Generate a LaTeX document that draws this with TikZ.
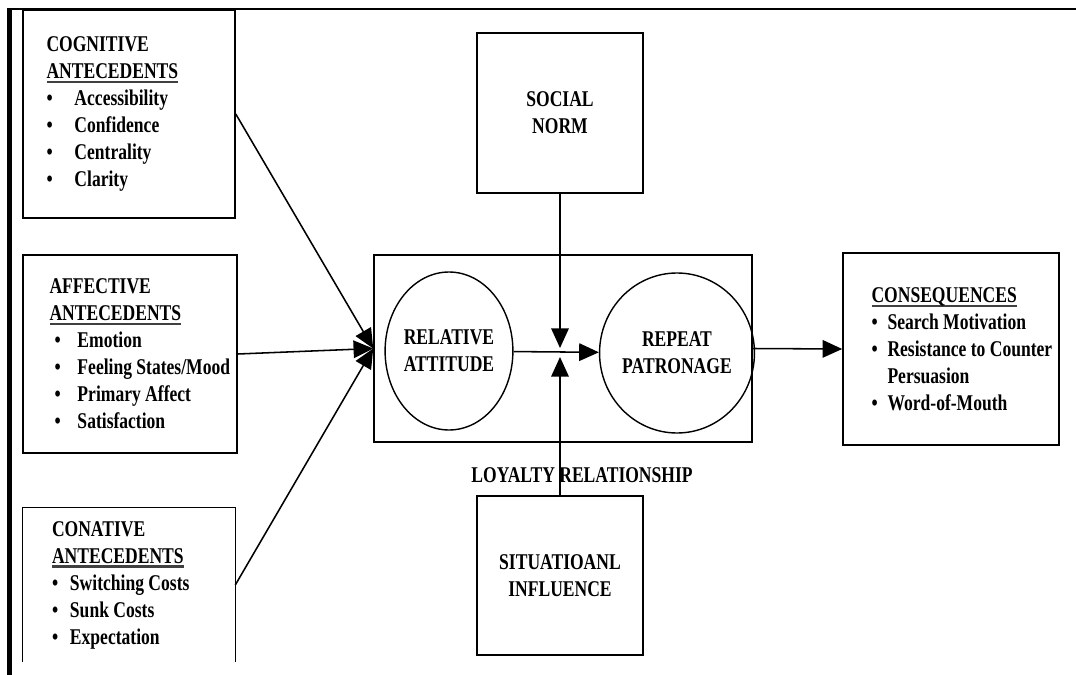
\documentclass[tikz,border=0pt]{standalone}
\usepackage{fontspec}
\setmainfont{Liberation Serif}[FakeStretch=0.78]
\usepackage{xcolor}
\usetikzlibrary{shapes,arrows.meta,positioning,calc}

\newdimen\pxu \pxu=0.025cm
\newcommand{\bul}[2]{\makebox[#1][l]{\textbullet}#2}
\newcommand{\undl}[1]{\setbox0\hbox{#1}\rlap{\color{black!75}\rule[-3.2pt]{\wd0}{1.6pt}}\box0}

\begin{document}
\begin{tikzpicture}[x=0.025cm, y=-0.025cm, >={Triangle[length=14pt,width=12.5pt]},
    font=\fontsize{16}{19.2}\selectfont\bfseries]
    \tikzstyle{box} = [draw, rectangle, line width=1.1pt, inner sep=0pt]
    \tikzstyle{txt} = [align=left, inner sep=0pt]
    \tikzstyle{oval} = [draw, ellipse, line width=1pt, inner sep=0pt, align=center]
    \tikzstyle{link} = [->, line width=1.1pt]

    \useasboundingbox (0,0) rectangle (1076,675);
    \draw [line width=2pt] (9,9) -- (1076,9);
    \draw [line width=3pt] (9.5,675) -- (9.5,8);

    % antecedents
    \node [box, minimum width=212\pxu, minimum height=208\pxu] (cog) at (129,114) {};
    \node [txt, right=24\pxu of cog.west] (cogtxt) {COGNITIVE\\ \undl{ANTECEDENTS}\\
        \bul{28\pxu}{Accessibility}\\ \bul{28\pxu}{Confidence}\\
        \bul{28\pxu}{Centrality}\\ \bul{28\pxu}{Clarity}};

    \node [box, minimum width=214\pxu, minimum height=198\pxu] (aff) at (130,354) {};
    \node [txt, right=27\pxu of aff.west] (afftxt) {AFFECTIVE\\ \undl{ANTECEDENTS}\\
        \hspace*{5\pxu}\bul{23\pxu}{Emotion}\\ \hspace*{5\pxu}\bul{23\pxu}{Feeling States/Mood}\\
        \hspace*{5\pxu}\bul{23\pxu}{Primary Affect}\\ \hspace*{5\pxu}\bul{23\pxu}{Satisfaction}};

    \node [minimum width=212\pxu, minimum height=154\pxu, inner sep=0pt] (con) at (129,585) {};
    \draw [line width=1.1pt] (con.south west) -- (con.north west) -- (con.north east) -- (con.south east);
    \node [txt, right=29\pxu of con.west] (context) {CONATIVE\\ \undl{ANTECEDENTS}\\
        \bul{18\pxu}{Switching Costs}\\ \bul{18\pxu}{Sunk Costs}\\ \bul{18\pxu}{Expectation}};

    % loyalty relationship
    \node [box, minimum width=378\pxu, minimum height=187\pxu] (rel) at (563,348.5) {};
    \node [oval, minimum width=118\pxu, minimum height=158\pxu] (att) at (449,351) {RELATIVE\\ATTITUDE};
    \node [oval, minimum width=119\pxu, minimum height=160\pxu] (pat) at (677,353) {REPEAT\\PATRONAGE};
    \node [inner sep=0pt] (loyal) at (582,475) {LOYALTY RELATIONSHIP};

    \node [box, minimum width=166\pxu, minimum height=160\pxu, align=center] (norm) at (560,113) {SOCIAL\\NORM};
    \node [box, minimum width=166\pxu, minimum height=159\pxu, align=center] (situ) at (560,575.5) {SITUATIOANL\\INFLUENCE};

    % consequences
    \node [box, minimum width=216\pxu, minimum height=192\pxu] (cons) at (951,349) {};
    \node [txt, right=29\pxu of cons.west] (constxt) {\undl{CONSEQUENCES}\\
        \bul{16\pxu}{Search Motivation}\\ \bul{16\pxu}{Resistance to Counter}\\
        \hspace*{16\pxu}Persuasion\\ \bul{16\pxu}{Word-of-Mouth}};

    \coordinate (downtip) at (560,348);
    \coordinate (uptip) at (560,357);

    \draw [link] (cog.east) -- (rel.west);
    \draw [link] (aff.east) -- (rel.west);
    \draw [link] (con.east) -- (rel.west);
    \draw [link] (att) -- (pat);
    \draw [link] (norm) -- (downtip);
    \draw [link] (situ) -- (uptip);
    \draw [link] (rel.east) -- (cons.west);
\end{tikzpicture}
\end{document}
